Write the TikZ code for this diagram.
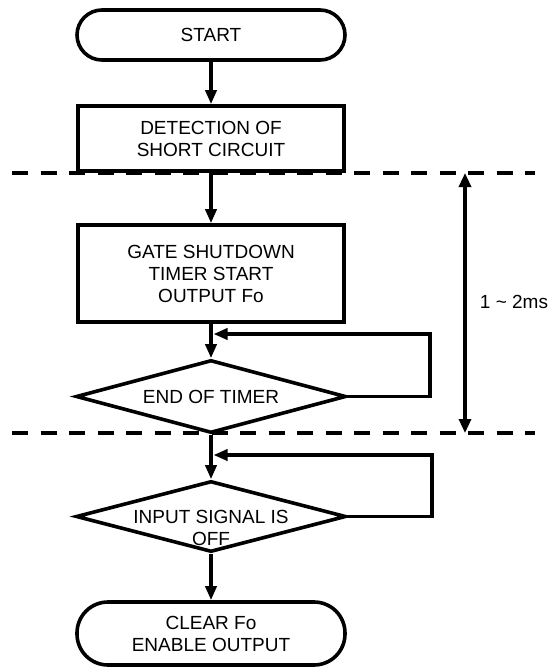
\documentclass[tikz,border=0pt]{standalone}
\usepackage{fontspec}
\setmainfont{Liberation Sans}
\usetikzlibrary{arrows.meta,shapes.geometric}
\begin{document}
\begin{tikzpicture}[x=1pt,y=-1pt,
  line width=3.6pt,
  every node/.style={font=\fontsize{19}{22}\selectfont, align=center, inner sep=0pt},
  term/.style={draw, rectangle, rounded corners=25pt, minimum width=268pt, minimum height=50pt},
  proc/.style={draw, rectangle, minimum width=266pt},
  dec/.style={draw, diamond, aspect=3.8, minimum width=270pt},
  arr/.style={-{Triangle[length=14pt,width=11pt]}},
  dbl/.style={{Triangle[length=14pt,width=12pt]}-{Triangle[length=14pt,width=12pt]}},
  sep/.style={dash pattern=on 16pt off 12.5pt},
]
\useasboundingbox (0,0) rectangle (556,667);
% separators
\coordinate (L1) at (12,173);
\coordinate (R1) at (535,173);
\coordinate (L2) at (12,433);
\coordinate (R2) at (535,433);
\draw[sep] (L1) -- (R1);
\draw[sep] (L2) -- (R2);
% nodes
\node[term] (start) at (211,35) {START};
\node[proc, minimum height=65pt] (detect) at (211,138.5) {DETECTION OF\\SHORT CIRCUIT};
\node[proc, minimum height=97pt] (gate) at (211,273.5) {GATE SHUTDOWN\\TIMER START\\OUTPUT Fo};
\node[dec, minimum height=73pt] (dia1) at (211,396.5) {END OF TIMER};
\node[dec, minimum height=71pt] (dia2) at (211,516.5) {};
\node (dia2t) at (211,527.5) {INPUT SIGNAL IS\\OFF};
\node[term, minimum height=63pt, rounded corners=31pt] (endt) at (211,633.5) {CLEAR Fo\\ENABLE OUTPUT};
% connectors
\coordinate (r1) at (430,334);
\coordinate (fb1) at (213.5,334);
\coordinate (r2) at (432,455);
\coordinate (fb2) at (213.5,455);
\draw[arr] (start) -- (detect);
\draw[arr] (detect) -- (gate);
\draw[arr] (gate) -- (dia1);
\draw[arr] (dia1.east) -| (r1) -- (fb1);
\draw[arr] (dia1) -- (dia2);
\draw[arr] (dia2.east) -| (r2) -- (fb2);
\draw[arr] (dia2) -- (endt);
% timing
\coordinate (d1) at (465,173);
\coordinate (d2) at (465,433);
\draw[dbl, line width=3.2pt] (d1) -- (d2);
\node (lbl) at (514,302) {1 \textasciitilde{} 2ms};
\end{tikzpicture}
\end{document}
